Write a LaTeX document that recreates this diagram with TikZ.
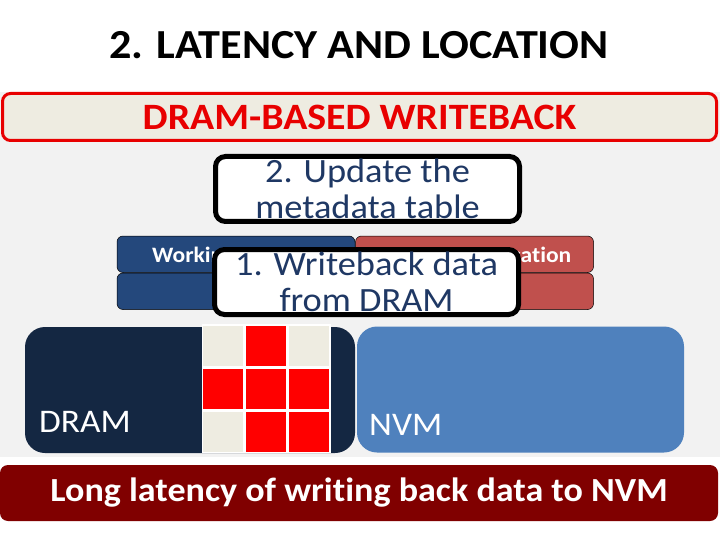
\documentclass[tikz,border=0pt]{standalone}
\usepackage{fontspec}
\setmainfont{Carlito}[FakeStretch=1.07, Ligatures=NoCommon]
\usetikzlibrary{positioning}

\definecolor{bgGray}{RGB}{242,242,242}
\definecolor{paleBeige}{RGB}{238,236,225}
\definecolor{bannerRed}{RGB}{232,0,0}
\definecolor{noteBlue}{RGB}{31,56,100}
\definecolor{setBlue}{RGB}{36,72,124}
\definecolor{infoRed}{RGB}{192,80,77}
\definecolor{dramNavy}{RGB}{20,39,66}
\definecolor{nvmBlue}{RGB}{79,129,189}
\definecolor{verdictRed}{RGB}{128,0,0}

\begin{document}
\begin{tikzpicture}[x=1pt, y=-1pt,
    cell/.style={draw=white, line width=1.5pt, minimum size=41.5pt, inner sep=0pt},
    bar/.style={draw=black, line width=0.5pt, rounded corners=6pt, minimum width=238pt, minimum height=36.5pt, inner sep=0pt},
    mem/.style={rounded corners=20pt, minimum height=126pt, inner sep=0pt},
    note/.style={draw=black, fill=white, line width=5pt, rounded corners=10pt, minimum width=304pt, minimum height=65pt, inner sep=0pt, align=center, text=noteBlue, font=\fontsize{34}{36}\selectfont}]
    \useasboundingbox (0,0) rectangle (720,540);
    \fill[white] (0,0) rectangle (720,540);
    \fill[bgGray] (0,92) rectangle (720,457);

    \node (title) [anchor=base, font=\fontsize{41.3}{48}\selectfont\bfseries] at (359,58.3) {2. LATENCY AND LOCATION};
    \node (banner) [draw=bannerRed, fill=paleBeige, line width=3pt, rounded corners=8pt, minimum width=714pt, minimum height=47pt, text=bannerRed, font=\fontsize{37.2}{44}\selectfont\bfseries] at (359.5,117) {DRAM-BASED WRITEBACK};

    % metadata step
    \node (update) [note] at (367.5,189) {2. Update the\\metadata table};

    % working set / location bars
    \node (setTop) [bar, fill=setBlue] at (236,254.25) {};
    \node (setBot) [bar, fill=setBlue, below=0pt of setTop] {};
    \node (infoTop) [bar, fill=infoRed, right=0pt of setTop] {};
    \node (infoBot) [bar, fill=infoRed, right=0pt of setBot] {};
    \node (setLabel) [anchor=base west, inner sep=0pt, text=white, font=\fontsize{22}{24}\selectfont\bfseries] at (152,262) {Working};
    \node (infoLabel) [anchor=base east, inner sep=0pt, text=white, font=\fontsize{22}{24}\selectfont\bfseries] at (571.5,262) {Location};

    % writeback step
    \node (writeback) [note] at (366.5,282) {1. Writeback data\\from DRAM};

    % memories
    \node (dram) [mem, fill=dramNavy, minimum width=330pt] at (190,390) {};
    \node (nvm) [mem, fill=nvmBlue, minimum width=327pt] at (520.5,389.5) {};
    \node (dramLabel) [anchor=base west, inner sep=0pt, text=white, font=\fontsize{33}{40}\selectfont] at (39,432.5) {DRAM};
    \node (nvmLabel) [anchor=base west, inner sep=0pt, text=white, font=\fontsize{33}{40}\selectfont] at (369,435) {NVM};

    % dirty blocks held in DRAM
    \node (a1) [cell, fill=paleBeige] at (223.3,345.5) {};
    \node (a2) [cell, fill=red, right=0pt of a1] {};
    \node (a3) [cell, fill=paleBeige, right=0pt of a2] {};
    \node (b1) [cell, fill=red, below=0pt of a1] {};
    \node (b2) [cell, fill=red, right=0pt of b1] {};
    \node (b3) [cell, fill=red, right=0pt of b2] {};
    \node (c1) [cell, fill=paleBeige, below=0pt of b1] {};
    \node (c2) [cell, fill=red, right=0pt of c1] {};
    \node (c3) [cell, fill=red, right=0pt of c2] {};

    \node (verdict) [fill=verdictRed, rounded corners=8pt, minimum width=718pt, minimum height=56pt, text=white, font=\fontsize{33.7}{38}\selectfont\bfseries] at (359,493) {Long latency of writing back data to NVM};
\end{tikzpicture}
\end{document}
